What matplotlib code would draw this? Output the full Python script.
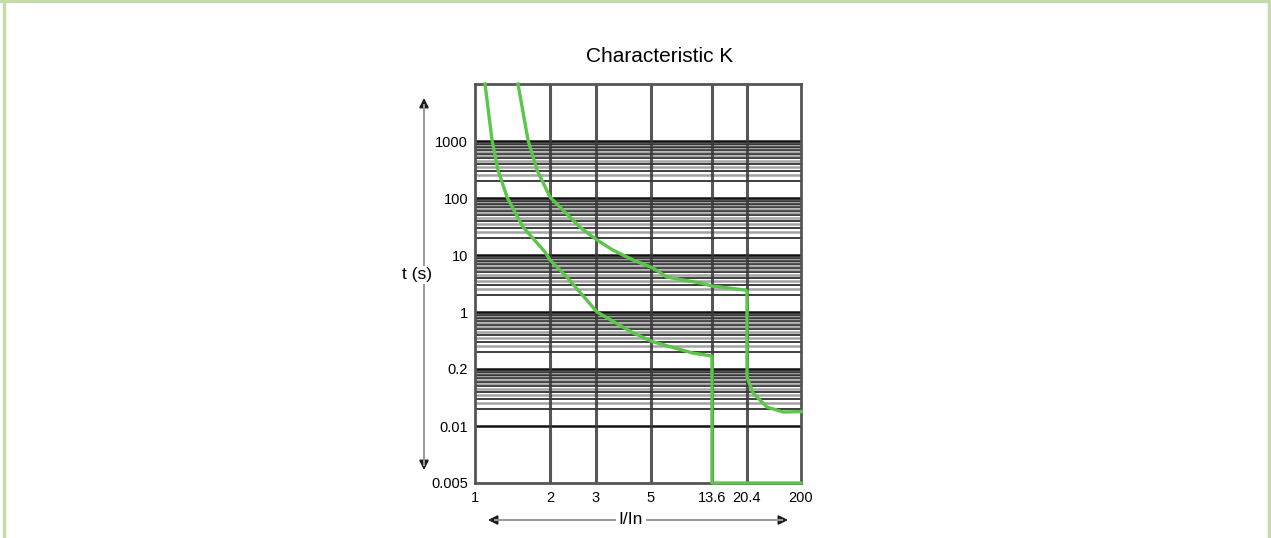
import numpy as np
import matplotlib
matplotlib.use("Agg")
import matplotlib.pyplot as plt
from matplotlib.lines import Line2D

plt.rcParams['font.family'] = ['Liberation Sans', 'DejaVu Sans']

# x axis: tick values and their spacing on the printed chart (non-uniform)
x_ticks = [1, 2, 3, 5, 13.6, 20.4, 200]
x_tick_labels = ['1', '2', '3', '5', '13.6', '20.4', '200']
# y axis: decade positions and the labels printed on them
y_ticks = [1e-3, 1e-2, 1e-1, 1, 10, 100, 1000]
y_tick_labels = ['0.005', '0.01', '0.2', '1', '10', '100', '1000']

# lower tripping curve (I/In, t in s)
low_x = [1.097, 1.17, 1.237, 1.344, 1.558, 1.91, 2.0, 2.32, 3.03,
         4.23, 5.17, 9.96, 13.6, 13.6, 200]
low_t = [10000, 1042, 310, 104, 31, 11.3, 8.2, 4.1, 1.0,
         0.43, 0.30, 0.19, 0.169, 0.001, 0.001]
# upper tripping curve
up_x = [1.488, 1.632, 1.774, 2.0, 2.60, 3.03, 3.51, 4.23, 5.17, 6.5, 11.2,
        13.6, 19.9, 20.4, 20.4, 26.3, 47.5, 93.4, 200]
up_t = [10000, 1042, 310, 104, 31, 18.3, 12.2, 8.2, 5.9, 4.1, 3.23,
        2.86, 2.43, 2.35, 0.0725, 0.0379, 0.0215, 0.0176, 0.0179]

x_pos = [0, 75, 121, 176, 237, 272, 326]
lx = np.log10(x_ticks)


def fwd(x):
    x = np.clip(np.asarray(x, dtype=float), 1e-9, None)
    return np.interp(np.log10(x), lx, x_pos)


def inv(p):
    return 10 ** np.interp(p, x_pos, lx)


fig = plt.figure(figsize=(12.71, 5.38), dpi=100)
W, H = 1271, 538
ax = fig.add_axes([475 / W, (H - 483) / H, 326 / W, 399 / H])
ax.set_xscale('function', functions=(fwd, inv))
ax.set_yscale('log')
ax.set_xlim(1, 200)
ax.set_ylim(1e-3, 1e4)

# horizontal grid: decade lines and dense minor lines
for d in range(-2, 3):
    base = 10.0 ** d
    for k in np.arange(2.0, 10, 0.5):
        v = base * k
        if k == int(k):
            ax.axhline(v, color='#1e1e1e', lw=1.4, alpha=0.85, zorder=1)
        else:
            ax.axhline(v, color='#666666', lw=1.8, alpha=0.6, zorder=1)
for v in y_ticks[1:]:
    ax.axhline(v, color='#111111', lw=1.8, zorder=1)
for v in x_ticks[1:-1]:
    ax.axvline(v, color='#3a3a3a', lw=2.2, alpha=0.85, zorder=2)

green = '#5cc64a'
ax.plot(low_x, low_t, color=green, lw=2.4, zorder=5, clip_on=False,
        solid_joinstyle='round')
ax.plot(up_x, up_t, color=green, lw=2.4, zorder=5, clip_on=False,
        solid_joinstyle='round')

for s in ax.spines.values():
    s.set_color('#555555')
    s.set_linewidth(2.0)

ax.xaxis.set_major_locator(matplotlib.ticker.FixedLocator(x_ticks))
ax.xaxis.set_major_formatter(matplotlib.ticker.FixedFormatter(x_tick_labels))
ax.xaxis.set_minor_locator(matplotlib.ticker.NullLocator())
ax.yaxis.set_major_locator(matplotlib.ticker.FixedLocator(y_ticks))
ax.yaxis.set_major_formatter(matplotlib.ticker.FixedFormatter(y_tick_labels))
ax.yaxis.set_minor_locator(matplotlib.ticker.NullLocator())
ax.tick_params(length=0, labelsize=10.5)
ax.tick_params(axis='x', pad=6)
ax.tick_params(axis='y', pad=5)

fig.text(660 / W, 1 - 56 / H, 'Characteristic K', ha='center', va='center',
         fontsize=15)

# axis arrows: grey shaft, black heads
shaft = '#9a9a9a'
fig.add_artist(Line2D([424 / W, 424 / W], [1 - 105 / H, 1 - 465 / H],
                      color=shaft, lw=1.5))
fig.add_artist(Line2D([495 / W, 782 / W], [1 - 520 / H, 1 - 520 / H],
                      color=shaft, lw=1.5))
heads = [((424, 98), (424, 118)), ((424, 470), (424, 450)),
         ((488, 520), (508, 520)), ((788, 520), (768, 520))]
for tip, tail in heads:
    ax.annotate('', xy=(tip[0], H - tip[1]), xytext=(tail[0], H - tail[1]),
                xycoords='figure pixels', textcoords='figure pixels',
                arrowprops=dict(arrowstyle='-|>', color='#1a1a1a', lw=1.2,
                                mutation_scale=14, shrinkA=0, shrinkB=0))
fig.text(417 / W, 1 - 275 / H, 't (s)', ha='center', va='center', fontsize=12.5,
         bbox=dict(facecolor='white', edgecolor='none', pad=1))
fig.text(631 / W, 1 - 520 / H, 'I/In', ha='center', va='center', fontsize=12.5,
         bbox=dict(facecolor='white', edgecolor='none', pad=2))

# light green frame (top, left, right)
bc = '#c5dba9'
fig.add_artist(Line2D([4 / W, 4 / W], [0, 1], color=bc, lw=2.5))
fig.add_artist(Line2D([1269 / W, 1269 / W], [0, 1], color=bc, lw=2.5))
fig.add_artist(Line2D([0, 1], [1 - 1 / H, 1 - 1 / H], color=bc, lw=3))

fig.savefig('out.png', dpi=100)
